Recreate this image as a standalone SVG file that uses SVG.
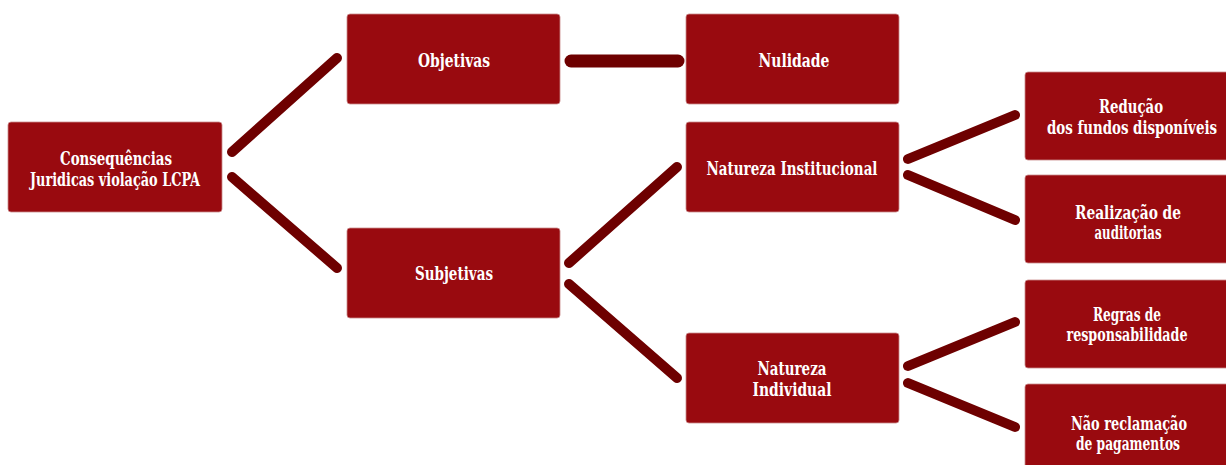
<svg xmlns="http://www.w3.org/2000/svg" width="1226" height="465" viewBox="0 0 1226 465">
<style>
.box{fill:#990a0f;stroke:#c98a8c;stroke-width:0.8}
.t{font-family:"DejaVu Serif Condensed","DejaVu Serif","Liberation Serif",serif;font-weight:bold;font-size:19px;fill:#ffffff;text-anchor:middle}
.c{stroke:#6e0000;stroke-width:10;stroke-linecap:round;fill:none}
</style>
<rect width="1226" height="465" fill="#ffffff"/>
<g id="connectors">
<line class="c" x1="232" y1="152" x2="337" y2="58"/>
<line class="c" x1="232" y1="177" x2="337" y2="268"/>
<line class="c" x1="571" y1="61" x2="678" y2="61" style="stroke-width:13"/>
<line class="c" x1="569" y1="263" x2="677" y2="167"/>
<line class="c" x1="569" y1="284" x2="677" y2="378"/>
<line class="c" x1="908" y1="159" x2="1015" y2="115"/>
<line class="c" x1="908" y1="175" x2="1015" y2="220"/>
<line class="c" x1="908" y1="366" x2="1015" y2="322"/>
<line class="c" x1="908" y1="383" x2="1015" y2="427"/>
</g>
<g id="consequencias">
<rect class="box" x="8" y="122" width="214" height="90" rx="3"/>
<text class="t" x="116" y="165" textLength="112" lengthAdjust="spacingAndGlyphs">Consequências</text>
<text class="t" x="115" y="186" textLength="170" lengthAdjust="spacingAndGlyphs">Juridicas violação LCPA</text>
</g>
<g id="objetivas">
<rect class="box" x="347" y="14" width="213" height="90" rx="3"/>
<text class="t" x="454" y="67" textLength="72" lengthAdjust="spacingAndGlyphs">Objetivas</text>
</g>
<g id="nulidade">
<rect class="box" x="686" y="14" width="213" height="90" rx="3"/>
<text class="t" x="794" y="67" textLength="71" lengthAdjust="spacingAndGlyphs">Nulidade</text>
</g>
<g id="subjetivas">
<rect class="box" x="347" y="228" width="213" height="90" rx="3"/>
<text class="t" x="454" y="280" textLength="78" lengthAdjust="spacingAndGlyphs">Subjetivas</text>
</g>
<g id="natureza-institucional">
<rect class="box" x="686" y="122" width="213" height="90" rx="3"/>
<text class="t" x="792" y="175" textLength="171" lengthAdjust="spacingAndGlyphs">Natureza Institucional</text>
</g>
<g id="natureza-individual">
<rect class="box" x="686" y="333" width="213" height="90" rx="3"/>
<text class="t" x="792" y="375" textLength="69" lengthAdjust="spacingAndGlyphs">Natureza</text>
<text class="t" x="792" y="396" textLength="79" lengthAdjust="spacingAndGlyphs">Individual</text>
</g>
<g id="reducao">
<rect class="box" x="1025" y="72" width="213" height="88" rx="3"/>
<text class="t" x="1131" y="113" textLength="64" lengthAdjust="spacingAndGlyphs">Redução</text>
<text class="t" x="1132" y="134" textLength="170" lengthAdjust="spacingAndGlyphs">dos fundos disponíveis</text>
</g>
<g id="realizacao">
<rect class="box" x="1025" y="175" width="213" height="88" rx="3"/>
<text class="t" x="1128" y="219" textLength="106" lengthAdjust="spacingAndGlyphs">Realização de</text>
<text class="t" x="1128" y="239" textLength="67" lengthAdjust="spacingAndGlyphs">auditorias</text>
</g>
<g id="regras">
<rect class="box" x="1025" y="280" width="213" height="88" rx="3"/>
<text class="t" x="1127" y="321" textLength="68" lengthAdjust="spacingAndGlyphs">Regras de</text>
<text class="t" x="1127" y="341" textLength="121" lengthAdjust="spacingAndGlyphs">responsabilidade</text>
</g>
<g id="nao-reclamacao">
<rect class="box" x="1025" y="384" width="213" height="90" rx="3"/>
<text class="t" x="1129" y="430" textLength="116" lengthAdjust="spacingAndGlyphs">Não reclamação</text>
<text class="t" x="1128" y="450" textLength="104" lengthAdjust="spacingAndGlyphs">de pagamentos</text>
</g>
</svg>
